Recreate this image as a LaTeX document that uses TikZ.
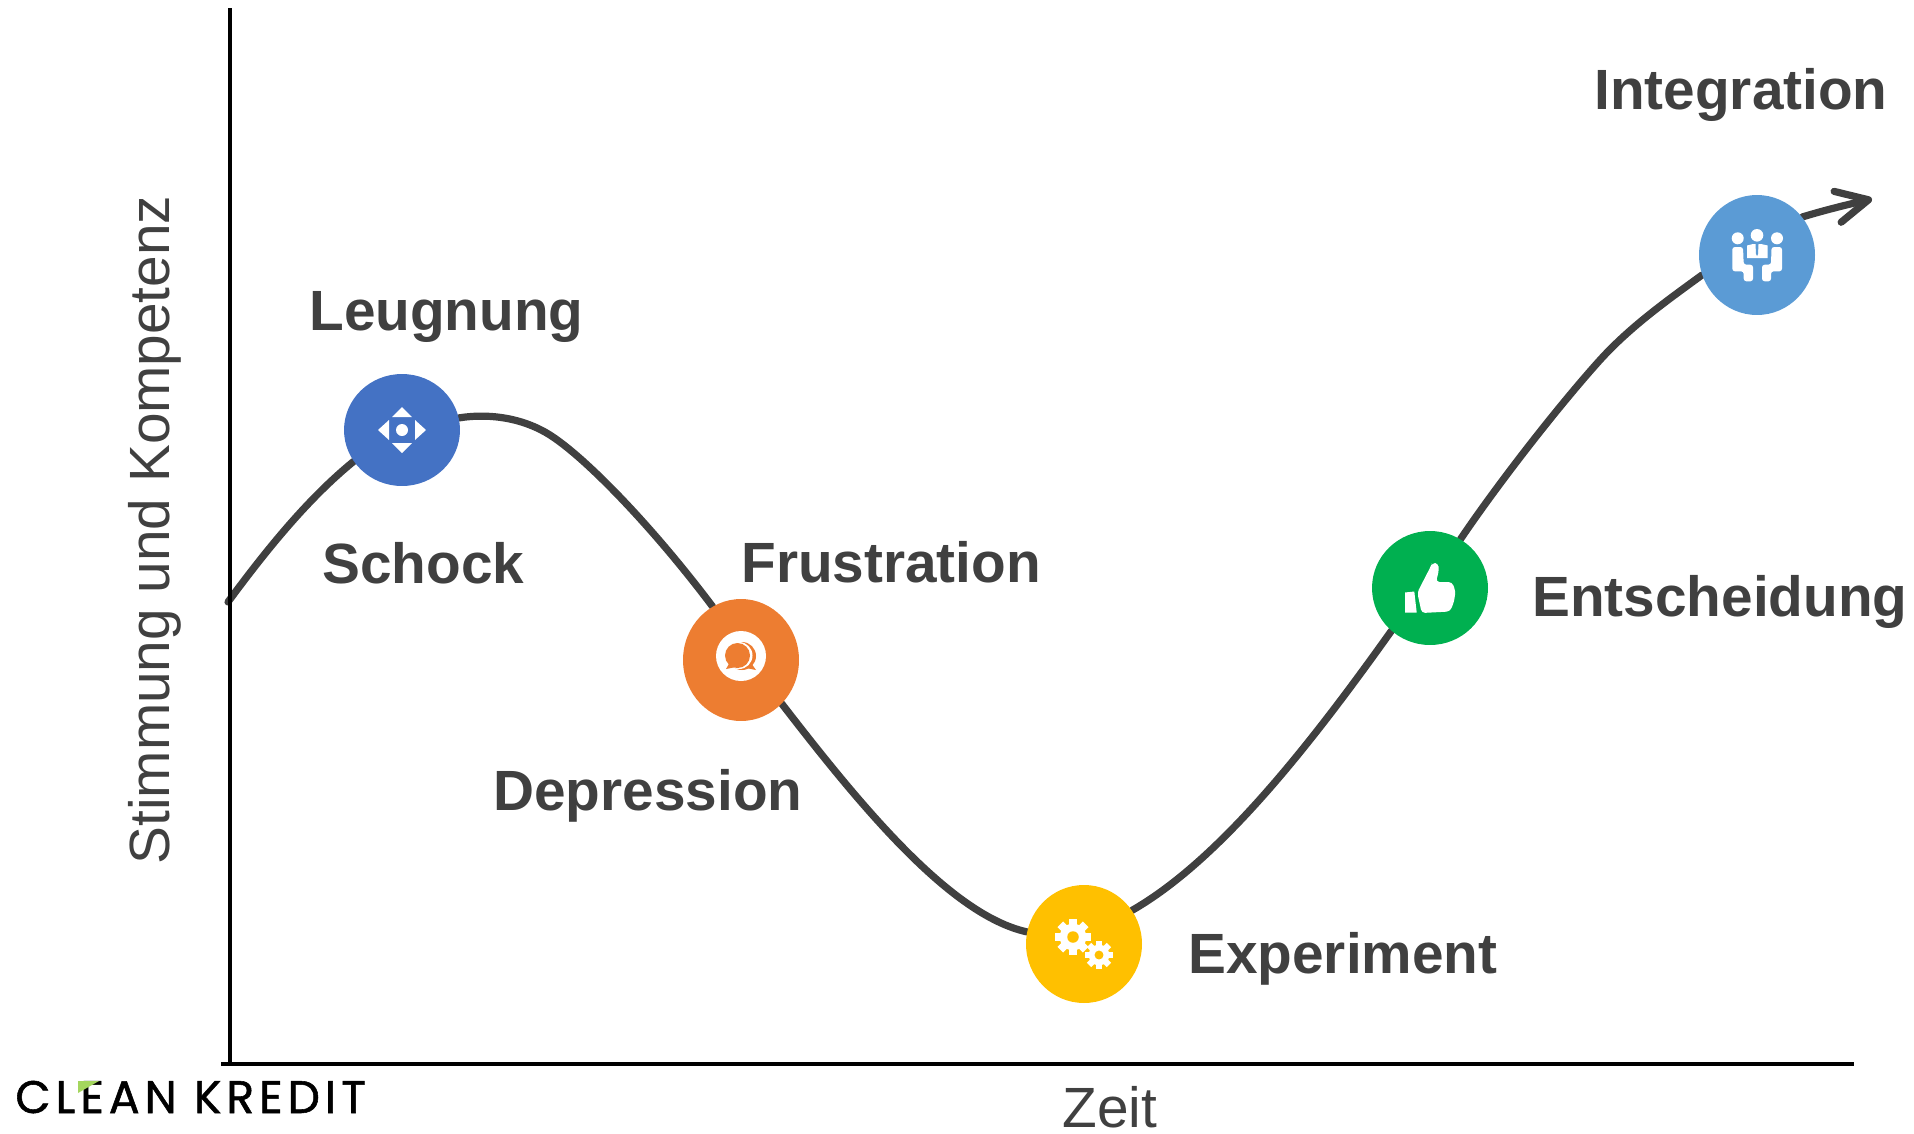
\documentclass[tikz,border=0pt]{standalone}
\usepackage{fontspec}
\setmainfont{Liberation Sans}
\newfontfamily\logofont[LetterSpace=11, FakeBold=1.2]{Poppins}
\usepackage{tikz}
\usetikzlibrary{shapes, arrows.meta, backgrounds}

\definecolor{curvegray}{HTML}{404040}
\definecolor{schockblue}{HTML}{4472C4}
\definecolor{frustorange}{HTML}{ED7D31}
\definecolor{expyellow}{HTML}{FFC000}
\definecolor{entgreen}{HTML}{00B050}
\definecolor{integblue}{HTML}{5B9BD5}
\definecolor{logogreen}{HTML}{A4D65E}

% Zahnrad: Position, Radius, Farbe des Lochs
\newcommand{\gearicon}[3]{%
  \begin{scope}[shift={#1}]
    \foreach \a in {0,45,...,315} {
      \fill[white, rotate=\a] (-0.22*#2,0) rectangle (0.22*#2,1.0*#2);
    }
    \fill[white] (0,0) circle ({0.74*#2});
    \fill[#3] (0,0) circle ({0.32*#2});
  \end{scope}}

\begin{document}
\begin{tikzpicture}[x=0.02cm, y=-0.02cm,
            stage/.style={draw=none, ellipse, inner sep=0pt, minimum width=2.32cm},
            curve/.style={draw=curvegray, line width=4.1pt, line cap=round},
            axis/.style={draw=black, line width=2.2pt},
            phase/.style={anchor=base west, inner sep=0pt, text=curvegray, font=\fontsize{32.3}{38}\selectfont\bfseries},
            axislabel/.style={text=curvegray, inner sep=0pt, font=\fontsize{32.3}{38}\selectfont}]
            \useasboundingbox (0,0) rectangle (1914,1133);

            % Achsen
            \coordinate (ytop) at (230,8);
            \coordinate (origin) at (230,1064);
            \coordinate (xend) at (1854,1064);
            \draw[axis] (ytop) -- (origin);
            \draw[axis] ([xshift=-5pt]origin) -- (xend);

            % Phasen
            \node[stage, minimum height=2.24cm, fill=schockblue] (schock) at (402,430) {};
            \node[stage, minimum height=2.44cm, fill=frustorange] (frust) at (741,660) {};
            \node[stage, minimum height=2.36cm, fill=expyellow] (exper) at (1084,944) {};
            \node[stage, minimum height=2.28cm, fill=entgreen] (entsch) at (1430,588) {};
            \node[stage, minimum height=2.40cm, fill=integblue] (integ) at (1757,255) {};

            % Kurve
            \coordinate (start) at (228,602);
            \coordinate (bendA) at (553,437);
            \coordinate (bendB) at (1600,360);
            \coordinate (tip) at (1872,199);
            \begin{scope}[on background layer]
              \draw[curve] (start) .. controls (270,545) and (310,497) .. (schock.213);
              \draw[curve] (schock.12) .. controls (490,413) and (525,418) .. (bendA)
                .. controls (590,462) and (655,530) .. (frust.118);
              \draw[curve] (frust.-47) .. controls (860,805) and (950,915) .. (exper.168);
              \draw[curve] (exper.35) .. controls (1220,860) and (1310,745) .. (entsch.228);
              \draw[curve] (entsch.58) .. controls (1495,488) and (1555,410) .. (bendB)
                .. controls (1630,327) and (1665,302) .. (integ.200);
              \draw[curve, -{Straight Barb[length=18pt, width=18pt, round]}] (integ.40) .. controls (1825,210) and (1850,204) .. (tip);
            \end{scope}

            % Symbole
            \begin{scope}[shift={(schock.center)}]
              \fill[white] (0,-23) -- (-10,-13) -- (10,-13) -- cycle;
              \fill[white] (0,23) -- (-10,13) -- (10,13) -- cycle;
              \fill[white] (-24,0) -- (-13,-10) -- (-13,10) -- cycle;
              \fill[white] (24,0) -- (13,-10) -- (13,10) -- cycle;
              \fill[white] (0,0) circle (6);
            \end{scope}
            \begin{scope}[shift={(frust.center)}]
              \fill[white] (0,-4) circle (25);
              \fill[frustorange] (1,-4) circle (14);
              \fill[frustorange] (10,3) -- (15,10) -- (5,8) -- cycle;
              \fill[white] (-2,-4.5) circle (13.5);
              \fill[frustorange] (-3.5,-4.5) circle (12.5);
              \fill[frustorange] (-11,2) -- (-15,9) -- (-5,7) -- cycle;
            \end{scope}
            \begin{scope}[shift={(exper.center)}]
              \gearicon{(-11,-7)}{18}{expyellow}
              \gearicon{(15,11)}{14}{expyellow}
            \end{scope}
            \begin{scope}[shift={(entsch.center)}]
              \fill[white] (-25,4.5) -- (-15.7,3.5) -- (-13.3,24.5) -- (-25,24.5) -- cycle;
              \fill[white, rounded corners=2pt] (-12.7,4.5) -- (0.7,-21.5) -- (2,-25) -- (8,-25) -- (9,-18) -- (6,-6)
                -- (22,-6) -- (25.5,3) -- (24,14) -- (20,23.5) -- (-8.3,25) -- cycle;
            \end{scope}
            \begin{scope}[shift={(integ.center)}]
              \fill[white] (-19.3,-16.7) circle (6);
              \fill[white] (0,-19.7) circle (6.3);
              \fill[white] (20,-16.7) circle (6);
              \fill[white] (-10,-9.5) -- (-4,-11) -- (4,-11) -- (10.7,-9.5) -- (10.7,3) -- (-10,3) -- cycle;
              \fill[integblue] (-1.5,-11) -- (1.5,-11) -- (1,-1) -- (0,1) -- (-1,-1) -- cycle;
              \fill[white, rounded corners=1.5pt] (-24.7,-8) -- (-14,-8) -- (-13.3,9.7) -- (-4,9.7) -- (-4,26.3) -- (-13.3,26.3) -- (-13.3,16.3) -- (-24.7,16.3) -- cycle;
              \fill[white, rounded corners=1.5pt] (25,-8) -- (14.5,-8) -- (14,9.7) -- (5,9.7) -- (5,26.3) -- (14,26.3) -- (14,16.3) -- (25,16.3) -- cycle;
            \end{scope}

            % Beschriftung
            \node[phase] (lbllng) at (309,330) {Leugnung};
            \node[phase] (lblsch) at (322,583) {Schock};
            \node[phase] (lblfru) at (741,582) {Frustration};
            \node[phase] (lbldep) at (493,810) {Depression};
            \node[phase] (lblexp) at (1188,973) {Experiment};
            \node[phase] (lblent) at (1532,616) {Entscheidung};
            \node[phase] (lblint) at (1594,109) {Integration};
            \node[axislabel, anchor=base west] (xlabel) at (1062,1127) {Zeit};
            \node[axislabel, anchor=base, rotate=90] (ylabel) at (169,530) {Stimmung und Kompetenz};

            % Logo
            \node[anchor=base west, inner sep=0pt, text=black, font=\logofont\fontsize{26}{30}\selectfont] (logo) at (15,1113) {CLEAN KREDIT};
            \fill[logogreen] (78,1081) -- (99,1081) -- (78,1093) -- cycle;
        \end{tikzpicture}
\end{document}
